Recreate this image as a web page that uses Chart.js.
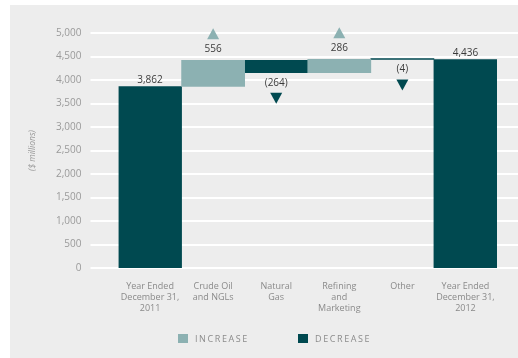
<!DOCTYPE html>
<html>
<head>
<meta charset="utf-8">
<script src="https://cdn.jsdelivr.net/npm/chart.js@4/dist/chart.umd.min.js"></script>
<style>
  body { margin: 0; background: #fff; }
  #panel { position: absolute; left: 10px; top: 5px; width: 508px; height: 353px; background: #ededed; }
  #chart { display: block; }
  .key { position: absolute; top: 327px; font: 9px "Open Sans", sans-serif; color: #8c8c8c; letter-spacing: 1.6px; }
  .key span { display: inline-block; width: 10px; height: 9px; margin-right: 7px; vertical-align: -1px; }
</style>
</head>
<body>
<div id="panel">
  <canvas id="chart" width="508" height="353"></canvas>
  <div class="key" style="left:168px"><span style="background:#8cb1b2"></span>INCREASE</div>
  <div class="key" style="left:288px"><span style="background:#004950"></span>DECREASE</div>
</div>
<script>
var categories = [
  ["Year Ended", "December 31,", "2011"],
  ["Crude Oil", "and NGLs"],
  ["Natural", "Gas"],
  ["Refining", "and", "Marketing"],
  ["Other"],
  ["Year Ended", "December 31,", "2012"]
];
var startTotal = 3862;
var changes = [556, -264, 286, -4];
var endTotal = 4436;
var yTicks = [0, 500, 1000, 1500, 2000, 2500, 3000, 3500, 4000, 4500, 5000];

var light = "#8cb1b2";
var dark = "#004950";

// running sum gives the floating range of each step
var increase = [null];
var decrease = [[0, startTotal]];
var labels = [startTotal.toLocaleString("en-US")];
var kinds = ["total"];
var level = startTotal;
changes.forEach(function(c){
  var next = level + c;
  if(c >= 0){
    increase.push([level, next]);
    decrease.push(null);
    labels.push(c.toLocaleString("en-US"));
    kinds.push("up");
  }
  else{
    increase.push(null);
    decrease.push([next, level]);
    labels.push("(" + Math.abs(c).toLocaleString("en-US") + ")");
    kinds.push("down");
  }
  level = next;
});
increase.push(null);
decrease.push([0, endTotal]);
labels.push(endTotal.toLocaleString("en-US"));
kinds.push("total");

// white grid lines run past the plot on both sides
var gridPlugin = {
  id: "widegrid",
  beforeDatasetsDraw: function(chart){
    var ctx = chart.ctx, y = chart.scales.y;
    ctx.save();
    ctx.strokeStyle = "#ffffff";
    ctx.lineWidth = 2;
    y.ticks.forEach(function(t){
      var py = Math.round(y.getPixelForValue(t.value));
      ctx.beginPath();
      ctx.moveTo(chart.chartArea.left - 28, py);
      ctx.lineTo(chart.width, py);
      ctx.stroke();
    });
    ctx.restore();
  }
};

// value labels and arrow markers
var markPlugin = {
  id: "marks",
  afterDatasetsDraw: function(chart){
    var ctx = chart.ctx;
    ctx.save();
    ctx.font = "10px 'Open Sans', sans-serif";
    ctx.textAlign = "center";
    ctx.textBaseline = "middle";
    for(var i = 0; i < kinds.length; i++){
      var ds = increase[i] ? 0 : 1;
      var bar = chart.getDatasetMeta(ds).data[i];
      var top = Math.min(bar.y, bar.base);
      var bottom = Math.max(bar.y, bar.base);
      var x = bar.x;
      ctx.fillStyle = "#3b3b3b";
      if(kinds[i] == "total"){
        ctx.fillText(labels[i], x, top - 6);
      }
      else if(kinds[i] == "up"){
        ctx.fillText(labels[i], x, top - 11);
        var cy = top - 26;
        ctx.fillStyle = light;
        ctx.beginPath();
        ctx.moveTo(x, cy - 6);
        ctx.lineTo(x + 6, cy + 5);
        ctx.lineTo(x - 6, cy + 5);
        ctx.closePath();
        ctx.fill();
      }
      else{
        ctx.fillText(labels[i], x, bottom + 10);
        var cy = bottom + 25;
        ctx.fillStyle = dark;
        ctx.beginPath();
        ctx.moveTo(x - 6, cy - 5);
        ctx.lineTo(x + 6, cy - 5);
        ctx.lineTo(x, cy + 6);
        ctx.closePath();
        ctx.fill();
      }
    }
    ctx.restore();
  }
};

new Chart(document.getElementById("chart"), {
  type: "bar",
  data: {
    labels: categories,
    datasets: [
      { label: "Increase", data: increase, backgroundColor: light },
      { label: "Decrease", data: decrease, backgroundColor: dark, minBarLength: 1 }
    ]
  },
  options: {
    responsive: false,
    animation: false,
    barPercentage: 1,
    categoryPercentage: 1,
    layout: { padding: { left: 0, right: 21, top: 28, bottom: 0 } },
    plugins: { legend: { display: false }, tooltip: { enabled: false } },
    scales: {
      x: {
        stacked: true,
        grid: { display: false },
        border: { display: false },
        ticks: { color: "#8a8a8a", font: { family: "'Open Sans', sans-serif", size: 9 }, padding: 5, maxRotation: 0, autoSkip: false },
        afterFit: function(s){ s.height = 90; }
      },
      y: {
        min: 0,
        max: 5000,
        afterBuildTicks: function(s){ s.ticks = yTicks.map(function(v){ return { value: v }; }); },
        // tick marks stay hidden, their length only spaces the labels off the plot
        grid: { display: false, drawTicks: true, tickLength: 33 },
        border: { display: false },
        ticks: {
          color: "#9a9a9a",
          font: { family: "'Open Sans', sans-serif", size: 10 },
          padding: 4,
          callback: function(v){ return v.toLocaleString("en-US"); }
        },
        title: {
          display: true,
          text: "($ millions)",
          color: "#9a9a9a",
          font: { family: "'Open Sans', sans-serif", size: 8.5, style: "italic" },
          padding: { top: 17, bottom: 0 }
        },
        afterFit: function(s){ s.width = 108.5; }
      }
    }
  },
  plugins: [gridPlugin, markPlugin]
});
</script>
</body>
</html>
